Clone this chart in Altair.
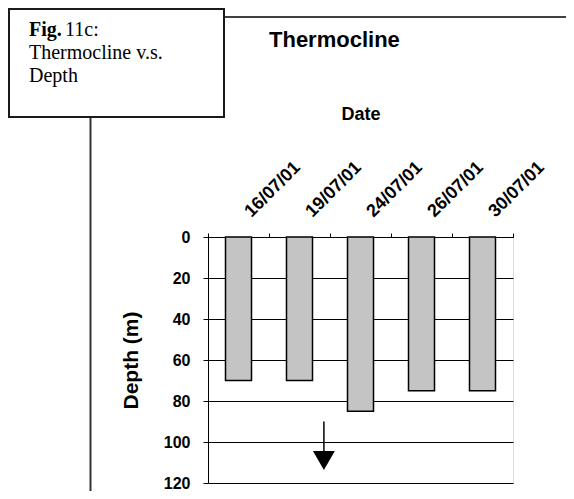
import altair as alt
import pandas as pd

# ---- data ----
dates = ["16/07/01", "19/07/01", "24/07/01", "26/07/01", "30/07/01"]
depths = [70, 70, 85, 75, 75]

arrow_date = ["19/07/01"]
arrow_top = [90]
arrow_end = [106]
arrow_head = [109]

y_ticks = [0, 20, 40, 60, 80, 100, 120]

title_text = "Thermocline"
caption_bold = "Fig."
caption_rest = "11c:"
caption_line2 = "Thermocline v.s."
caption_line3 = "Depth"
x_title = "Date"
y_title = "Depth (m)"

bars_df = pd.DataFrame({"Date": dates, "Depth": depths})
arrow_df = pd.DataFrame({"Date": arrow_date, "Depth": arrow_top, "end": arrow_end})
tip_df = pd.DataFrame({"Date": arrow_date, "Depth": arrow_head})
one = pd.DataFrame({"k": [0]})

FONT = "Liberation Sans"
SERIF = "Liberation Serif"

y_scale = alt.Scale(domain=[0, 120], reverse=True, nice=False)
x_scale = alt.Scale(paddingInner=0, paddingOuter=0)

x_axis = alt.Axis(orient="top", title=x_title, tickBand="extent",
                  labelAngle=-45, labelAlign="left", labelBaseline="middle",
                  labelFont=FONT, labelFontWeight="bold", labelFontSize=18,
                  labelPadding=19, labelOffset=9, labelColor="black",
                  tickSize=4, tickColor="black", domainColor="black",
                  titleFont=FONT, titleFontSize=18, titleFontWeight="bold",
                  titleColor="black", titleY=-118, titleBaseline="alphabetic",
                  grid=False)
y_axis = alt.Axis(values=y_ticks, title=y_title, grid=True,
                  gridColor="black", gridWidth=1, gridOpacity=1,
                  tickSize=5, tickColor="black", domainColor="black",
                  labelFont=FONT, labelFontSize=16, labelFontWeight="bold",
                  labelPadding=13, labelColor="black",
                  titleFont=FONT, titleFontSize=21, titleFontWeight="bold",
                  titleColor="black", titleX=-71, titleY=123,
                  titleAngle=270, titleBaseline="alphabetic",
                  titleAlign="center")

bars = alt.Chart(bars_df).mark_bar(
    width=26, fill="#c4c4c4", stroke="black", strokeWidth=1.5
).encode(
    x=alt.X("Date:N", sort=dates, scale=x_scale, axis=x_axis),
    y=alt.Y("Depth:Q", scale=y_scale, axis=y_axis),
)

arrow_line = alt.Chart(arrow_df).mark_rule(color="black", strokeWidth=1.5).encode(
    x=alt.X("Date:N", sort=dates, scale=x_scale, bandPosition=0.9, axis=x_axis),
    y=alt.Y("Depth:Q", scale=y_scale, axis=y_axis),
    y2="end:Q",
)

arrow_tip = alt.Chart(tip_df).mark_point(
    shape="triangle-down", filled=True, size=480, color="black", opacity=1
).encode(
    x=alt.X("Date:N", sort=dates, scale=x_scale, bandPosition=0.9, axis=x_axis),
    y=alt.Y("Depth:Q", scale=y_scale, axis=y_axis),
)

# ---- frame decorations (outside the plot area) ----
top_line = alt.Chart(one).mark_rule(color="black", strokeWidth=1.5).encode(
    x=alt.value(16), x2=alt.value(358), y=alt.value(-220))
left_line = alt.Chart(one).mark_rule(color="#333333", strokeWidth=2).encode(
    x=alt.value(-117.5), y=alt.value(-119), y2=alt.value(254))
box = alt.Chart(one).mark_rect(fill="white", stroke="#1a1a1a", strokeWidth=2).encode(
    x=alt.value(-199), x2=alt.value(16), y=alt.value(-228), y2=alt.value(-120))

def txt(s, x, y, font, size, weight="normal"):
    return alt.Chart(one).mark_text(
        align="left", baseline="alphabetic", font=font, fontSize=size,
        fontWeight=weight, color="black"
    ).encode(x=alt.value(x), y=alt.value(y), text=alt.value(s))

title = txt(title_text, 61, -190, FONT, 22, "bold")
c1 = txt(caption_bold, -179, -201, SERIF, 20, "bold")
c1b = txt(caption_rest, -143, -201, SERIF, 20)
c2 = txt(caption_line2, -179, -178, SERIF, 20)
c3 = txt(caption_line3, -179, -155, SERIF, 20)

chart = alt.layer(
    bars, arrow_line, arrow_tip, top_line, left_line, box, title, c1, c1b, c2, c3
).properties(
    width=305, height=246,
    autosize=alt.AutoSizeParams(type="none"),
    padding={"left": 200, "top": 229, "right": 53, "bottom": 8},
).configure_view(stroke="transparent").configure(background="white")

chart.save("out.html", embed_options={"renderer": "svg", "actions": False})
